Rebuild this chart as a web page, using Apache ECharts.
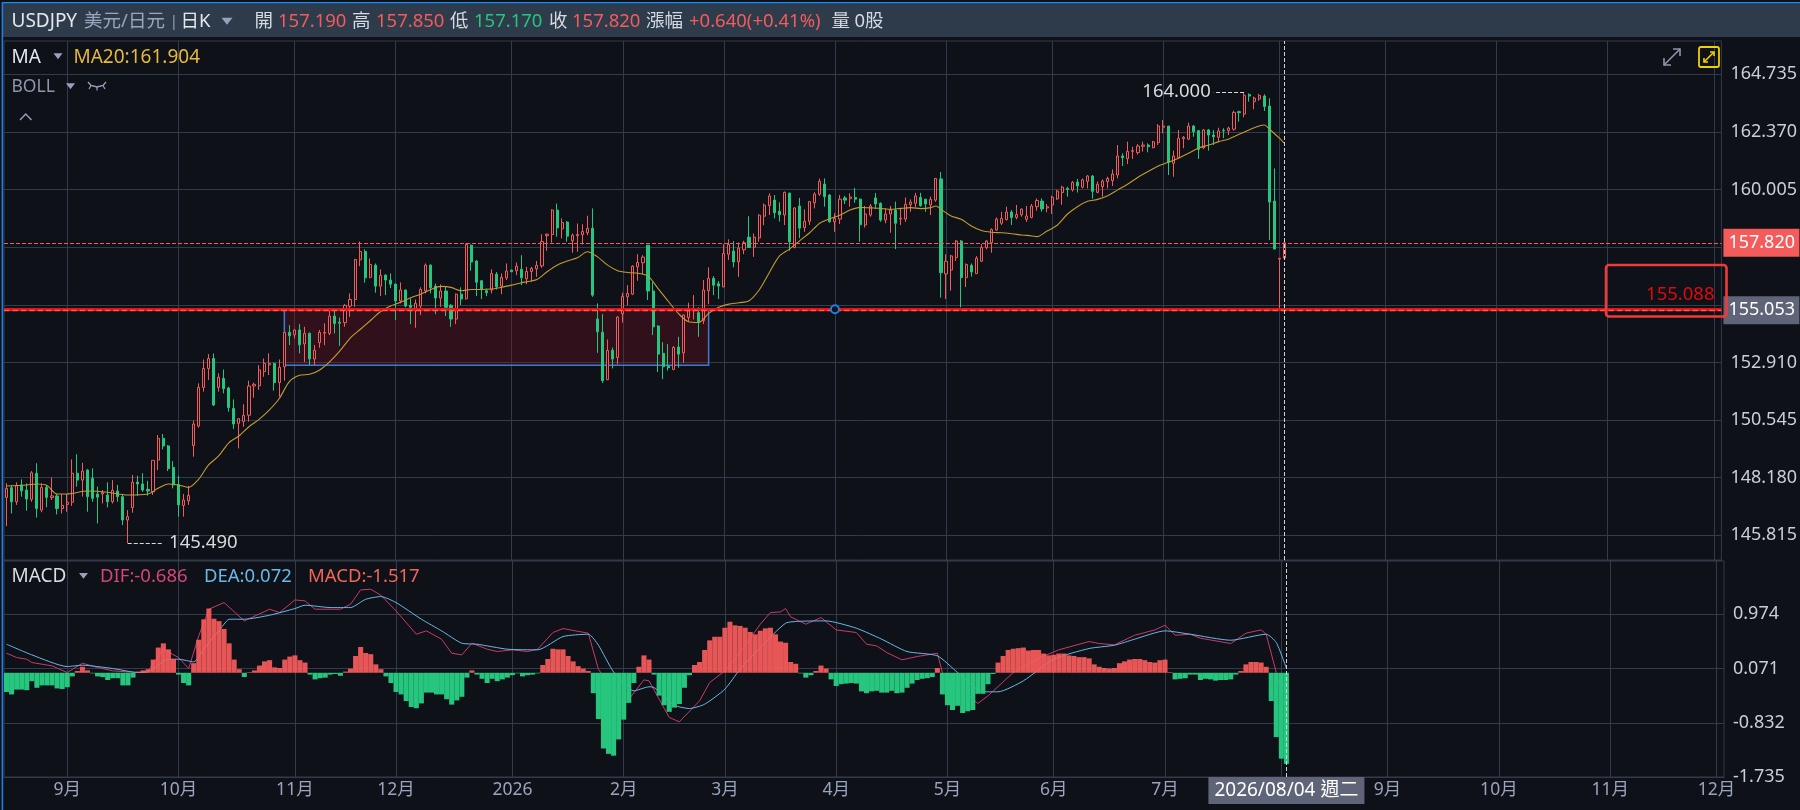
<!DOCTYPE html>
<html><head><meta charset="utf-8"><style>html,body{margin:0;padding:0;background:#0e1117}#c{width:1800px;height:810px}</style>
<script src="https://cdn.jsdelivr.net/npm/echarts@6/dist/echarts.min.js"></script></head><body><div id="c"></div>
<script>
const firstDay='2025-08-14', slotCount=340;
const monthDates=['2025-09-01','2025-10-01','2025-11-03','2025-12-01','2026-01-01','2026-02-02','2026-03-02','2026-04-01','2026-05-01','2026-06-01','2026-07-01','2026-08-03','2026-09-01','2026-10-01','2026-11-02','2026-12-01'];
const monthLabels=['9月','10月','11月','12月','2026','2月','3月','4月','5月','6月','7月','','9月','10月','11月','12月'];
const priceGrid=[164.735,162.37,160.005,157.64,155.275,152.91,150.545,148.18,145.815];
const priceLabels=[164.735,162.37,160.005,152.91,150.545,148.18,145.815];
const macdTicks=[0.974,0.071,-0.832,-1.735];
// open, close, low, high
const ohlc=[
[147.37,147.74,146.19,147.95],[147.77,147.19,146.71,147.88],[147.19,147.85,147.06,147.99],[147.88,147.64,147.40,148.11],[147.67,147.30,146.82,147.94],
[147.29,148.38,147.19,148.45],[148.36,146.91,146.54,148.77],[146.85,147.78,146.76,147.95],[147.78,147.37,146.96,147.88],[147.36,147.43,147.26,148.19],
[147.43,146.91,146.67,147.51],[146.91,147.04,146.71,147.51],[147.08,147.17,146.78,147.51],[147.17,148.36,147.02,148.93],[148.36,148.08,147.81,149.14],
[148.08,148.45,147.40,148.79],[148.49,147.40,146.78,148.53],[148.15,147.33,147.19,148.56],[147.51,147.38,146.30,147.81],[147.51,147.56,147.12,147.67],
[147.47,147.19,146.96,147.99],[147.19,147.66,147.12,148.08],[147.63,147.40,147.19,147.88],[147.40,146.44,146.23,147.51],[146.44,146.58,145.49,146.85],
[146.95,147.99,146.74,148.29],[148.00,147.92,147.43,148.26],[147.92,147.67,147.60,148.36],[147.70,147.63,147.44,148.05],[147.60,148.89,147.47,148.89],
[148.90,149.79,148.49,149.93],[149.79,149.48,149.34,149.97],[149.48,148.55,148.45,149.52],[148.60,147.88,147.74,148.86],[147.90,147.06,146.58,148.25],
[147.04,147.26,146.58,147.51],[147.23,147.45,147.06,147.84],[149.50,150.38,149.04,150.52],[150.30,151.88,150.23,152.05],[151.88,152.66,151.71,153.03],
[152.66,153.07,152.19,153.25],[153.07,151.16,151.12,153.28],[151.88,152.30,151.71,152.46],[152.25,151.83,151.64,152.62],[151.86,151.06,150.89,151.91],
[151.02,150.38,150.18,151.39],[150.41,150.60,149.38,150.60],[150.48,150.74,150.27,151.19],[150.74,151.94,150.48,152.16],[151.94,152.01,151.46,152.08],
[151.95,152.60,151.78,152.80],[152.53,152.87,152.32,153.07],[152.81,152.86,152.39,153.28],[152.87,152.08,151.75,152.90],[152.08,152.71,151.50,153.03],
[152.73,154.14,152.16,154.14],[154.15,154.00,153.62,154.44],[154.04,154.24,153.89,154.26],[154.24,153.63,153.28,154.48],[153.67,154.10,152.92,154.37],
[154.10,153.05,152.80,154.14],[153.05,153.41,152.80,153.62],[153.72,154.14,153.51,154.24],[154.11,154.14,153.62,154.51],[154.10,154.81,154.03,155.03],
[154.81,154.51,154.10,155.02],[154.56,154.52,153.59,154.75],[154.54,155.25,154.37,155.30],[155.22,155.49,154.78,155.74],[155.49,157.13,155.19,157.16],
[157.12,157.46,156.86,157.87],[157.46,156.38,156.18,157.55],[156.40,156.93,156.36,157.18],[156.90,156.04,155.77,156.97],[156.04,156.48,155.63,156.73],
[156.49,156.29,155.67,156.53],[156.29,156.12,155.96,156.56],[156.12,155.43,154.65,156.15],[155.43,155.88,155.33,156.19],[155.88,155.22,155.17,155.90],
[155.25,155.17,154.48,155.53],[155.10,155.33,154.33,155.49],[155.22,155.90,154.85,155.99],[155.85,156.90,155.74,156.97],[156.90,155.97,155.74,156.94],
[156.04,155.55,154.89,156.15],[155.55,155.84,155.19,156.11],[155.84,155.17,154.81,156.04],[155.25,154.69,154.37,155.30],[154.69,155.71,154.48,155.74],
[155.71,155.51,155.26,155.99],[155.52,157.75,155.49,157.79],[157.72,157.03,156.67,157.75],[157.07,156.20,155.63,157.11],[156.26,155.90,155.51,156.29],
[155.85,155.77,155.63,155.94],[155.88,156.56,155.74,156.73],[156.53,156.01,155.90,156.62],[156.04,156.40,155.71,156.56],[156.38,156.66,156.29,156.97],
[156.70,156.63,156.62,156.70],[156.67,156.86,156.49,157.01],[156.73,156.38,156.08,157.31],[156.34,156.64,156.12,156.83],[156.64,156.77,156.22,156.83],
[156.75,156.89,156.42,157.07],[156.87,157.87,156.79,158.17],[158.11,158.17,157.49,158.20],[158.16,159.16,157.83,159.20],[159.16,158.43,158.07,159.43],
[158.39,158.65,158.00,158.82],[158.67,158.09,157.86,158.71],[157.90,158.13,157.41,158.20],[158.11,158.16,157.45,158.61],[158.15,158.28,157.75,158.58],
[158.23,158.41,158.13,158.93],[158.42,155.67,155.60,159.23],[154.69,154.17,153.30,155.33],[154.15,152.16,152.07,154.89],[152.20,153.40,152.18,153.85],
[153.41,153.05,152.66,153.52],[153.11,154.77,152.84,154.81],[154.90,155.62,154.54,155.77],[155.60,155.74,155.25,156.08],[155.71,156.86,155.67,156.90],
[156.83,157.01,156.26,157.35],[157.00,157.23,156.53,157.31],[157.72,155.84,155.47,157.72],[155.84,154.37,154.03,156.22],[154.40,153.25,152.51,154.44],
[153.28,152.73,152.22,153.74],[152.76,152.69,152.57,153.66],[152.62,153.52,152.59,153.58],[153.54,153.25,152.69,153.96],[153.30,154.85,152.89,154.88],
[154.75,155.03,154.58,155.36],[155.03,155.06,154.67,155.67],[154.95,154.59,153.96,155.17],[154.62,155.88,154.48,156.29],[155.85,156.36,155.30,156.81],
[156.36,156.08,155.67,156.45],[156.14,156.04,155.51,156.25],[156.01,157.38,155.99,157.76],[157.35,157.75,157.11,157.96],[157.48,157.03,156.81,157.89],
[157.04,157.60,156.42,157.83],[157.53,157.82,157.35,157.90],[158.05,157.63,157.61,158.91],[157.64,158.05,157.24,158.20],[158.02,158.95,157.86,158.99],
[158.91,159.36,158.54,159.43],[159.34,159.74,158.96,159.85],[159.57,159.05,158.82,159.78],[159.11,158.97,158.69,159.48],[158.96,159.89,158.55,159.92],
[159.86,157.86,157.49,159.86],[157.63,159.25,157.59,159.27],[159.33,158.42,158.01,159.66],[158.44,158.70,158.27,159.19],[158.70,159.51,158.55,159.53],
[159.46,159.82,159.23,159.89],[159.81,160.34,159.74,160.45],[160.23,159.71,159.30,160.46],[159.78,158.68,158.64,159.81],[158.68,158.82,158.27,159.03],
[158.79,159.61,158.59,159.78],[159.66,159.57,159.41,159.74],[159.63,159.70,159.30,159.85],[159.68,159.61,159.46,160.07],[159.61,158.56,157.86,159.64],
[158.55,159.00,158.44,159.33],[158.96,159.33,158.89,159.41],[159.66,159.41,159.20,159.86],[159.44,158.75,158.68,159.48],[158.75,159.00,158.62,159.23],
[159.00,159.16,158.23,159.33],[159.16,158.62,157.56,159.51],[158.79,158.83,158.55,159.23],[158.79,159.40,158.68,159.68],[159.38,159.49,159.09,159.60],
[159.44,159.74,159.27,159.87],[159.68,159.34,159.30,159.87],[159.61,159.41,159.09,159.61],[159.37,159.60,158.96,159.71],[159.57,160.46,159.50,160.48],
[160.44,156.59,155.57,160.72],[156.54,157.06,155.51,157.34],[156.70,157.28,155.85,157.32],[157.21,157.89,157.07,157.93],[157.89,156.39,155.17,157.93],
[156.39,156.93,156.00,156.97],[156.89,156.62,156.43,156.97],[156.55,157.19,156.54,157.27],[157.06,157.63,157.03,157.77],[157.62,157.89,157.55,157.93],
[157.82,158.37,157.41,158.41],[158.34,158.79,158.31,158.86],[158.62,158.82,158.55,159.09],[158.77,159.08,158.73,159.30],[159.08,158.86,158.55,159.16],
[158.86,158.98,158.78,159.37],[158.97,159.20,158.89,159.23],[158.78,158.92,158.68,159.33],[158.86,159.33,158.82,159.41],[159.30,159.55,159.14,159.64],
[159.53,159.21,159.10,159.64],[159.25,159.30,159.07,159.41],[159.37,159.68,159.00,159.75],[159.62,159.94,159.58,159.99],[159.88,160.10,159.38,160.16],
[160.05,160.01,159.71,160.12],[159.99,160.30,159.92,160.35],[160.31,160.15,159.88,160.44],[160.10,160.40,160.05,160.46],[160.34,160.56,160.05,160.60],
[160.56,159.93,159.63,160.60],[159.89,160.22,159.85,160.33],[160.12,160.35,159.71,160.42],[160.33,160.46,160.05,160.53],[160.37,160.64,160.15,160.83],
[160.60,161.38,160.46,161.83],[161.38,161.31,160.97,161.49],[161.27,161.57,161.05,161.97],[161.57,161.60,161.26,161.76],[161.52,161.79,161.44,161.87],
[161.78,161.83,161.56,161.97],[161.83,161.76,161.53,161.90],[161.72,161.96,161.70,162.00],[161.93,162.61,161.83,162.69],[162.56,162.61,162.31,162.86],
[162.61,161.12,160.60,162.61],[161.08,161.38,160.53,161.60],[161.31,162.11,161.29,162.45],[162.09,162.15,161.70,162.20],[162.07,162.61,162.04,162.75],
[162.61,162.38,162.17,162.65],[162.42,161.65,161.26,162.45],[161.71,162.45,161.67,162.49],[162.45,162.24,161.60,162.49],[162.24,162.17,161.83,162.45],
[162.15,162.41,161.97,162.54],[162.43,162.41,162.11,162.52],[162.42,162.53,162.24,162.58],[162.48,163.17,162.42,163.24],[163.20,163.16,162.79,163.24],
[163.10,163.87,162.97,164.00],[163.90,163.84,163.61,163.95],[163.61,163.76,163.30,163.82],[163.72,163.86,163.65,163.93],[163.84,163.41,163.23,163.91],
[163.43,159.49,157.93,163.75],[159.53,157.56,157.56,160.87],[157.15,157.18,155.05,157.18],[157.19,157.82,157.17,157.85]
];
// [bar index, value]
const ma20=[[0,147.84],[4,147.88],[6,147.92],[8,147.86],[10,147.51],[12,147.51],[16,147.63],[20,147.58],[24,147.47],[28,147.51],[30,147.74],[32,147.92],[34,147.88],[36,147.78],[38,148.11],[40,148.70],[42,149.07],[44,149.61],[46,149.89],[48,150.27],[50,150.57],[52,150.95],[54,151.43],[56,152.12],[58,152.38],[60,152.42],[62,152.60],[64,152.94],[66,153.38],[68,153.90],[70,154.26],[72,154.62],[74,154.99],[76,155.22],[78,155.38],[80,155.56],[82,155.71],[84,155.90],[86,156.03],[88,155.99],[90,155.85],[92,155.90],[94,155.90],[96,155.92],[98,155.99],[100,156.08],[102,156.18],[103,156.22],[105,156.31],[107,156.63],[109,156.90],[111,157.07],[113,157.20],[115,157.45],[117,157.24],[119,156.90],[121,156.67],[123,156.60],[125,156.57],[127,156.45],[129,155.94],[131,155.42],[133,154.92],[135,154.58],[137,154.55],[139,154.92],[141,155.17],[143,155.30],[145,155.36],[147,155.44],[149,155.88],[151,156.59],[153,157.27],[155,157.56],[157,157.90],[159,158.23],[161,158.62],[163,158.81],[165,158.95],[167,159.16],[169,159.27],[171,159.25],[173,159.23],[175,159.19],[177,159.23],[179,159.26],[181,159.22],[183,159.26],[184,159.33],[185,159.19],[187,158.92],[189,158.78],[191,158.51],[193,158.32],[195,158.25],[197,158.23],[199,158.19],[201,158.14],[203,158.10],[204,158.07],[206,158.30],[208,158.54],[210,158.99],[212,159.30],[214,159.52],[216,159.60],[218,159.75],[220,159.99],[222,160.23],[224,160.51],[226,160.74],[228,160.97],[230,161.12],[232,161.29],[234,161.49],[236,161.71],[238,161.83],[240,161.97],[242,162.08],[244,162.27],[246,162.45],[248,162.61],[249,162.65],[250,162.49],[252,162.11],[253,161.904]];
const macdBars=[-.32,-.36,-.28,-.28,-.29,-.14,-.25,-.21,-.21,-.21,-.26,-.27,-.24,-.06,.03,.10,.04,-.01,-.06,-.07,-.12,-.09,-.09,-.21,-.21,-.08,.02,.04,.06,.22,.42,.49,.39,.23,-.03,-.17,-.21,.16,.55,.89,1.07,.90,.86,.73,.49,.22,.06,-.07,.01,.04,.12,.19,.21,.09,.08,.22,.27,.29,.21,.17,-.03,-.11,-.09,-.08,-.03,-.02,-.05,.02,.07,.28,.43,.33,.31,.14,.06,-.06,-.17,-.32,-.36,-.47,-.57,-.59,-.51,-.33,-.33,-.36,-.36,-.44,-.53,-.46,-.40,-.08,.04,-.03,-.10,-.17,-.10,-.14,-.11,-.08,-.04,-.01,-.06,-.04,-.03,-.01,.13,.23,.40,.39,.39,.28,.19,.11,.07,.03,-.34,-.77,-1.26,-1.35,-1.38,-1.11,-.78,-.50,-.17,.10,.29,.22,-.03,-.38,-.54,-.65,-.58,-.52,-.25,-.04,.13,.18,.38,.54,.60,.60,.75,.85,.79,.78,.75,.68,.64,.70,.74,.75,.64,.52,.50,.18,.15,-.01,-.08,-.04,.03,.12,.07,-.11,-.22,-.19,-.18,-.17,-.18,-.31,-.34,-.31,-.30,-.33,-.33,-.30,-.34,-.33,-.25,-.18,-.12,-.10,-.09,-.07,.08,-.36,-.54,-.62,-.55,-.67,-.64,-.62,-.35,-.35,-.19,-.02,.17,.28,.38,.40,.41,.42,.37,.38,.38,.32,.29,.30,.32,.32,.29,.28,.26,.26,.24,.14,.10,.08,.07,.08,.16,.19,.22,.23,.23,.21,.18,.17,.21,.22,.01,-.11,-.10,-.09,-.03,-.03,-.12,-.10,-.11,-.13,-.12,-.12,-.11,-.03,.03,.14,.18,.18,.17,.10,-.47,-1.07,-1.43,-1.517];
const dea=[[0,.476],[5,.298],[12,.104],[15,.126],[21,.071],[26,.004],[28,.015],[32,.226],[34,.226],[37,.182],[39,.393],[43,.809],[44,.892],[47,.892],[52,.958],[57,1.069],[59,1.125],[64,1.086],[68,1.086],[71,1.224],[74,1.269],[77,1.169],[82,.892],[86,.698],[90,.492],[93,.476],[99,.393],[105,.382],[110,.603],[115,.642],[117,.459],[120,.015],[124,-.301],[127,-.234],[128,-.245],[132,-.539],[135,-.595],[138,-.523],[142,-.273],[145,.060],[149,.420],[154,.825],[157,.858],[162,.864],[168,.742],[173,.559],[178,.354],[184,.282],[188,.004],[193,-.317],[196,-.317],[201,-.134],[207,.226],[214,.404],[219,.459],[223,.559],[229,.698],[234,.642],[242,.542],[249,.642],[251,.503],[253,.072]];
const dif=[[0,.326],[2,.254],[4,.226],[5,.171],[9,.115],[12,.004],[15,.160],[18,.088],[21,.032],[26,.004],[28,.032],[31,.393],[34,.254],[36,.071],[38,.614],[40,1.058],[43,1.169],[47,.864],[52,1.058],[54,1.003],[57,1.213],[59,1.197],[61,1.058],[66,1.058],[68,1.141],[70,1.380],[72,1.391],[74,1.291],[77,1.030],[81,.642],[83,.698],[86,.559],[88,.326],[90,.298],[92,.492],[95,.393],[97,.354],[100,.382],[103,.354],[105,.393],[108,.670],[110,.736],[115,.659],[117,.060],[122,-.550],[126,-.118],[127,-.134],[131,-.744],[133,-.816],[137,-.467],[139,-.162],[142,.032],[145,.337],[149,.809],[151,1.003],[153,1.014],[154,1.069],[155,.931],[158,.809],[161,.919],[164,.714],[168,.670],[170,.476],[172,.448],[174,.337],[177,.215],[180,.271],[184,.326],[185,.004],[192,-.511],[194,-.384],[199,.004],[204,.243],[208,.382],[214,.520],[216,.487],[219,.465],[223,.625],[227,.714],[229,.792],[231,.625],[234,.642],[236,.576],[242,.487],[245,.659],[248,.714],[249,.642],[251,.004],[253,-.686]];
const lastPrice=157.82, userLine=155.088, cursorPrice=155.053, highMark=164, lowMark=145.49;
const boxTop=155.088, boxBottom=152.79, boxFrom=55, boxTo=139, cursorDay='2026-08-04', cursorLabel='2026/08/04 週二';

const days=[];(function(){const d=new Date(firstDay+'T00:00:00Z');while(days.length<slotCount){const w=d.getUTCDay();if(w&&w<6)days.push(d.toISOString().slice(0,10));d.setUTCDate(d.getUTCDate()+1);}})();
const FONT='"Noto Sans","Noto Sans CJK TC",sans-serif';
const UP='#f45b5b',DOWN='#26c67e',BG='#0e1117',GRID='#323b4a';
const isMonth=(i,v)=>monthDates.includes(v);
const txt=(x,y,t,c,s,extra)=>({type:'text',x,y,z:50,silent:true,style:Object.assign({text:t,fill:c,font:(s||18.5)+'px '+FONT,textVerticalAlign:'middle'},extra||{})});
const tri=(x,y,c,r)=>({type:'polygon',z:50,silent:true,shape:{points:[[x-r,y-r*.6],[x+r,y-r*.6],[x,y+r*.7]]},style:{fill:c}});
const pl=(pts,c,w)=>({type:'polyline',z:50,silent:true,shape:{points:pts},style:{stroke:c,lineWidth:w||1.6,fill:null}});
const graphic=[
{type:'rect',z:40,silent:true,shape:{x:3,y:4,width:1797,height:33},style:{fill:'#2e3b4b'}},
{type:'rect',z:41,silent:true,shape:{x:2,y:2,width:1798,height:1.6},style:{fill:'#1e8cf5'}},
{type:'rect',z:41,silent:true,shape:{x:1.6,y:2,width:1.6,height:808},style:{fill:'#1e7fe0'}},
txt(11.5,22,'USDJPY','#e4e8ee',19),txt(84,22,'美元/日元','#9aa6c0'),txt(170,22,'|','#9aa6c0',14),txt(180.5,22,'日K','#e4e8ee'),tri(227,21,'#9aa0bc',5.5),
txt(254.5,22,'開','#d5dae2'),txt(278,22,'157.190',UP),txt(352,22,'高','#d5dae2'),txt(376,22,'157.850',UP),txt(450,22,'低','#d5dae2'),txt(474,22,'157.170',DOWN),
txt(549,22,'收','#d5dae2'),txt(572,22,'157.820',UP),txt(646,22,'漲幅','#d5dae2'),txt(689,22,'+0.640(+0.41%)',UP),txt(831.5,22,'量','#d5dae2'),txt(854.5,22,'0股','#d5dae2'),
txt(11.5,57.5,'MA','#e4e8ee',19),tri(58,56,'#9aa0bc',4.5),txt(73.5,57.5,'MA20:161.904','#e6b93c',19),
txt(11.5,87,'BOLL','#8e96ae',17.5),tri(70.5,86,'#9aa0bc',4.5),
pl([[88,82],[91,85.5],[97,87],[103,85.5],[106,82]],'#9aa0bc',1.3),pl([[91,85.5],[89,89]],'#9aa0bc',1.2),pl([[97,87],[97,90.5]],'#9aa0bc',1.2),pl([[103,85.5],[105,89]],'#9aa0bc',1.2),
pl([[20,120],[25.7,114],[31.5,120]],'#9aa0bc',1.4),
txt(11.5,577,'MACD','#d9dde3',19),tri(83.5,575.7,'#9aa0bc',4.5),txt(100,577,'DIF:-0.686','#d6457a'),txt(204,577,'DEA:0.072','#6ab8ea'),txt(308,577,'MACD:-1.517','#f2665a'),
pl([[1664,65],[1680,49]],'#8e96ae'),pl([[1673,49],[1680,49],[1680,56]],'#8e96ae'),pl([[1664,58],[1664,65],[1671,65]],'#8e96ae'),
{type:'rect',z:50,silent:true,shape:{x:1699,y:47,width:20,height:20,r:2},style:{fill:'none',stroke:'#f0d000',lineWidth:1.8}},
pl([[1704,62],[1714,52]],'#f0d000'),pl([[1710,52],[1714,52],[1714,56]],'#f0d000'),pl([[1704,58],[1704,62],[1708,62]],'#f0d000'),
{type:'rect',z:45,silent:true,shape:{x:1606,y:265,width:120.5,height:51.5,r:3},style:{fill:'none',stroke:'#f03a3a',lineWidth:2.6}},
txt(1714.5,295,'155.088','#e00a0a',18.5,{textAlign:'right'})
];
const badge=(bg)=>({position:'end',distance:2,color:'#fff',fontSize:18,fontFamily:FONT,backgroundColor:bg,padding:[6,2,4,5],width:69,align:'left'});
const option={
animation:false,backgroundColor:BG,textStyle:{fontFamily:FONT},graphic:{elements:graphic},
grid:[{left:4,right:76,top:41,height:519,show:true,borderColor:GRID,borderWidth:1},{left:4,right:76,top:561,height:216,show:true,borderColor:GRID,borderWidth:1}],
xAxis:[0,1].map(g=>({type:'category',gridIndex:g,data:days,boundaryGap:true,axisLine:{onZero:false,lineStyle:{color:GRID}},axisTick:{show:false,alignWithLabel:true,interval:isMonth},
 splitLine:{show:true,alignWithLabel:true,interval:isMonth,lineStyle:{color:GRID,width:1}},
 axisLabel:g?{show:true,interval:isMonth,formatter:v=>monthLabels[monthDates.indexOf(v)]||'',color:'#9aa3bf',fontSize:17.5,margin:4,fontFamily:FONT}:{show:false}})),
yAxis:[
{gridIndex:0,position:'right',min:144.8,max:166.1,axisLine:{show:false},axisTick:{show:false,customValues:priceGrid},splitLine:{show:true,lineStyle:{color:GRID,width:1}},
 axisLabel:{customValues:priceLabels,align:'left',margin:9,padding:[2,0,0,0],color:'#c9ced8',fontSize:18,fontFamily:FONT,formatter:v=>(+v).toFixed(3)}},
{gridIndex:1,position:'right',min:-1.735,max:1.861,axisLine:{show:false},axisTick:{show:false,customValues:macdTicks},splitLine:{show:true,lineStyle:{color:GRID,width:1}},
 axisLabel:{customValues:macdTicks,align:'left',margin:9,padding:[2,0,0,0],color:'#c9ced8',fontSize:18,fontFamily:FONT,formatter:v=>(+v).toFixed(3)}}
],
series:[
{type:'candlestick',xAxisIndex:0,yAxisIndex:0,data:ohlc,barWidth:2.6,z:3,
 itemStyle:{color:BG,color0:DOWN,borderColor:UP,borderColor0:DOWN,borderWidth:1},
 markArea:{silent:true,z:1,itemStyle:{color:'rgba(130,20,35,.30)',borderColor:'#3a7bd5',borderWidth:1.5},data:[[{coord:[boxFrom,boxTop]},{coord:[boxTo,boxBottom]}]]},
 markLine:{silent:true,symbol:'none',z:6,animation:false,data:[
  {yAxis:lastPrice,lineStyle:{type:'dashed',width:1,color:'#f45b5b'},label:Object.assign(badge('#f45b5b'),{formatter:'157.820'})},
  {yAxis:userLine,lineStyle:{type:'solid',width:3,color:'#f00f0f'},label:{show:false}},
  {yAxis:cursorPrice,lineStyle:{type:'dashed',width:1.4,color:'#ff5a5a'},label:Object.assign(badge('#5f6478'),{formatter:'155.053'})},
  {xAxis:cursorDay,lineStyle:{type:'dashed',width:1,color:'#d0d3d8'},label:{show:false}},
  [{coord:[245,highMark],lineStyle:{type:'dashed',width:1,color:'#d8dade'},label:{position:'end',distance:3,formatter:'164.000',color:'#d8dade',fontSize:18.5,fontFamily:FONT}},{coord:[239,highMark]}],
  [{coord:[24,lowMark],lineStyle:{type:'dashed',width:1,color:'#d8dade'},label:{position:'end',distance:6,formatter:'145.490',color:'#d8dade',fontSize:18.5,fontFamily:FONT}},{coord:[31,lowMark]}]
 ]},
 markPoint:{silent:true,z:8,symbol:'circle',symbolSize:8,itemStyle:{color:BG,borderColor:'#1e7fe0',borderWidth:2},label:{show:false},data:[{coord:[164,userLine]}]}
},
{type:'line',xAxisIndex:0,yAxisIndex:0,data:ma20,showSymbol:false,symbol:'none',smooth:.3,z:4,lineStyle:{color:'#c39a35',width:1.1},silent:true},
{type:'line',xAxisIndex:1,yAxisIndex:1,data:dif,showSymbol:false,symbol:'none',z:2,lineStyle:{color:'#c93a6c',width:1},silent:true},
{type:'line',xAxisIndex:1,yAxisIndex:1,data:dea,showSymbol:false,symbol:'none',smooth:.2,z:2,lineStyle:{color:'#6ab8ea',width:1},silent:true},
{type:'bar',xAxisIndex:1,yAxisIndex:1,data:macdBars,barCategoryGap:'0%',z:3,silent:true,
 itemStyle:{color:p=>p.value>=0?'rgba(248,92,92,.92)':DOWN},
 markLine:{silent:true,symbol:'none',z:6,animation:false,data:[{xAxis:cursorDay,lineStyle:{type:'dashed',width:1,color:'#d0d3d8'},
  label:{position:'start',distance:0,formatter:cursorLabel,color:'#fff',fontSize:19,fontFamily:FONT,backgroundColor:'#5f6478',padding:[4,6,4,6]}}]}}
]};
echarts.init(document.getElementById('c'),null,{renderer:'canvas'}).setOption(option);
</script></body></html>
